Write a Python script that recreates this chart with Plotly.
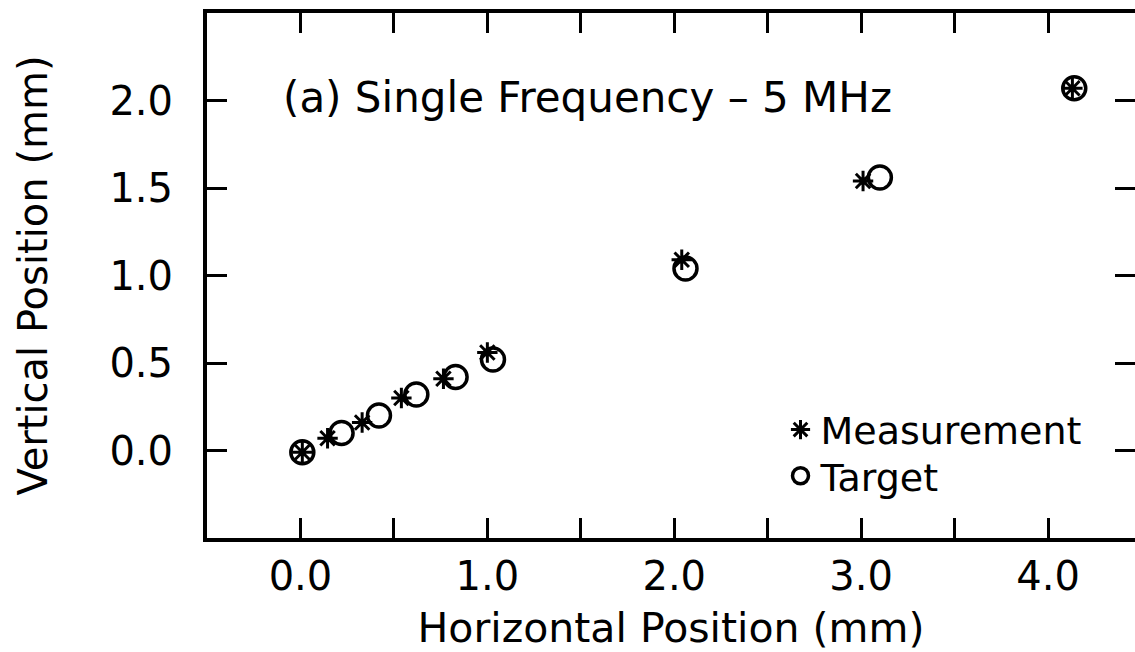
import plotly.graph_objects as go

# Data (mm)
meas_x = [0.01, 0.145, 0.33, 0.54, 0.765, 1.00, 2.04, 3.01, 4.13]
meas_y = [-0.01, 0.07, 0.16, 0.30, 0.41, 0.56, 1.09, 1.54, 2.07]
targ_x = [0.01, 0.22, 0.42, 0.62, 0.83, 1.03, 2.06, 3.10, 4.14]
targ_y = [-0.01, 0.10, 0.20, 0.32, 0.42, 0.52, 1.04, 1.56, 2.07]

x_tick_vals = [0, 1, 2, 3, 4]
x_tick_text = ["0.0", "1.0", "2.0", "3.0", "4.0"]
y_tick_vals = [0, 0.5, 1, 1.5, 2]
y_tick_text = ["0.0", "0.5", "1.0", "1.5", "2.0"]

FONT = "DejaVu Sans"
BLACK = "black"

fig = go.Figure()

fig.add_trace(go.Scatter(
    x=meas_x, y=meas_y, mode="markers", name="Measurement", legend="legend",
    marker=dict(symbol="asterisk-open", size=17, color=BLACK,
                line=dict(color=BLACK, width=3)),
))
fig.add_trace(go.Scatter(
    x=targ_x, y=targ_y, mode="markers", name="Target", legend="legend2",
    marker=dict(symbol="circle-open", size=23, color=BLACK,
                line=dict(color=BLACK, width=3.5)),
))
# invisible trace carrying the right-hand y axis ticks
fig.add_trace(go.Scatter(x=[], y=[], yaxis="y2", showlegend=False, hoverinfo="skip"))

fig.add_annotation(
    text="(a) Single Frequency \u2013 5 MHz", x=-0.105, y=2.02, xref="x", yref="y",
    xanchor="left", yanchor="middle", showarrow=False,
    font=dict(family=FONT, size=42, color=BLACK),
)

legend_common = dict(
    xanchor="left", yanchor="middle",
    bgcolor="rgba(0,0,0,0)", borderwidth=0,
    font=dict(family=FONT, size=38, color=BLACK),
    itemsizing="trace",
)

fig.update_layout(
    width=1135, height=652,
    margin=dict(l=207, r=0, t=13, b=114),
    paper_bgcolor="white", plot_bgcolor="white",
    font=dict(family=FONT, color=BLACK),
    showlegend=True,
    legend=dict(x=0.618, y=0.206, **legend_common),
    legend2=dict(x=0.618, y=0.118, **legend_common),
    xaxis=dict(
        range=[-0.5, 4.465],
        showgrid=False, zeroline=False,
        showline=True, linecolor=BLACK, linewidth=4, mirror="ticks",
        ticks="inside", ticklen=20, tickwidth=2.5, tickcolor=BLACK,
        tickvals=x_tick_vals, ticktext=x_tick_text,
        minor=dict(dtick=0.5, tick0=0, ticks="inside", ticklen=20,
                   tickwidth=2.5, tickcolor=BLACK, showgrid=False),
        tickfont=dict(family=FONT, size=40, color=BLACK),
        ticklabelstandoff=0,
        title=dict(text="Horizontal Position (mm)",
                   font=dict(family=FONT, size=41, color=BLACK), standoff=16),
    ),
    yaxis=dict(
        range=[-0.5, 2.5],
        showgrid=False, zeroline=False,
        showline=True, linecolor=BLACK, linewidth=4, mirror=False,
        ticks="inside", ticklen=20, tickwidth=2.5, tickcolor=BLACK,
        tickvals=y_tick_vals, ticktext=y_tick_text,
        tickfont=dict(family=FONT, size=40, color=BLACK),
        ticklabelstandoff=22,
        title=dict(text="Vertical Position (mm)",
                   font=dict(family=FONT, size=40, color=BLACK), standoff=50),
    ),
    yaxis2=dict(
        overlaying="y", side="right", matches="y",
        showgrid=False, zeroline=False, showline=False,
        ticks="inside", ticklen=20, tickwidth=2.5, tickcolor=BLACK,
        tickvals=y_tick_vals, showticklabels=False,
    ),
)

fig.write_html("out.html")
